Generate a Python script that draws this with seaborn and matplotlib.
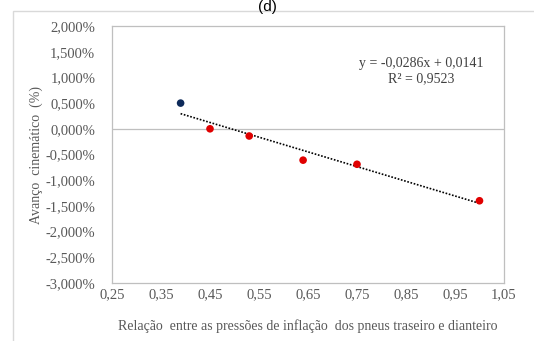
import numpy as np
import pandas as pd
import matplotlib
matplotlib.use("Agg")
import matplotlib.pyplot as plt
import seaborn as sns
from matplotlib.ticker import FuncFormatter
from matplotlib.patches import Rectangle

# Data
x_ref = [0.39]
y_ref = [0.50]
x_pts = [0.45, 0.53, 0.64, 0.75, 1.00]
y_pts = [0.00, -0.14, -0.61, -0.69, -1.40]
slope = -0.0286
intercept = 0.0141
eq_text = "y = -0,0286x + 0,0141"
r2_text = "R² = 0,9523"
x_ticks = [0.25, 0.35, 0.45, 0.55, 0.65, 0.75, 0.85, 0.95, 1.05]
y_ticks = [2.0, 1.5, 1.0, 0.5, 0.0, -0.5, -1.0, -1.5, -2.0, -2.5, -3.0]

sns.set_style("white")
plt.rcParams['font.family'] = ['Liberation Serif', 'DejaVu Serif']

W, H = 534, 341
fig = plt.figure(figsize=(W / 100, H / 100), dpi=100)
ax = fig.add_axes([112 / W, 1 - 283 / H, (504 - 112) / W, (283 - 26) / H])

# outer frame
fig.patches.append(Rectangle((13 / W, -0.1), 1.2, 1 - 11 / H + 0.1, transform=fig.transFigure,
                             fill=False, edgecolor='#d9d9d9', linewidth=1.0, zorder=0))

# trend line
all_x = x_ref + x_pts
xl = np.array([min(all_x), max(all_x)])
trend = pd.DataFrame({"x": xl, "y": (slope * xl + intercept) * 100})
ax.axhline(0, color='#bfbfbf', linewidth=0.9, zorder=1)
sns.lineplot(data=trend, x="x", y="y", ax=ax, color='black', linestyle=(0, (1, 1)),
             linewidth=1.2, zorder=2)

sns.scatterplot(x=x_ref, y=y_ref, ax=ax, color='#0d2a5a', s=30, edgecolor='none', zorder=3)
sns.scatterplot(x=x_pts, y=y_pts, ax=ax, color='#e00000', s=30, edgecolor='none', zorder=3)

ax.set_xlim(0.25, 1.05)
ax.set_ylim(-3.0, 2.0)
ax.set_xticks(x_ticks)
ax.set_yticks(y_ticks)
ax.xaxis.set_major_formatter(FuncFormatter(lambda v, p: f"{v:.2f}".replace('.', ',')))
ax.yaxis.set_major_formatter(FuncFormatter(lambda v, p: f"{v:.3f}%".replace('.', ',')))
ax.tick_params(axis='both', length=0, labelsize=10.5, colors='#595959')
ax.tick_params(axis='y', pad=12)
ax.tick_params(axis='x', pad=4)
for sp in ax.spines.values():
    sp.set_color('#bfbfbf')
    sp.set_linewidth(0.9)

ax.set_xlabel("Relação  entre as pressões de inflação  dos pneus traseiro e dianteiro",
              fontsize=10, color='#595959', labelpad=13)
ax.set_ylabel("Avanço  cinemático  (%)", fontsize=10, color='#595959', labelpad=2)

ax.text(0.79, 0.823, eq_text + "\n" + r2_text, transform=ax.transAxes, ha='center', va='center',
        fontsize=10, color='#404040', linespacing=1.2)

fig.text(267 / W, 1.0, "(d)", ha='center', va='top', fontsize=11,
         family=['Liberation Sans', 'DejaVu Sans'], color='black')

fig.savefig("out.png", dpi=100)
